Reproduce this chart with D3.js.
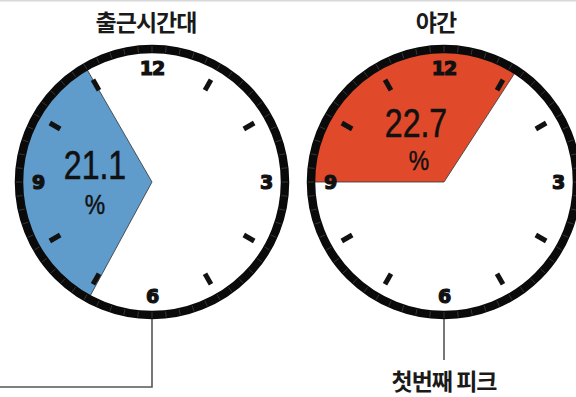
<!DOCTYPE html>
<html>
<head>
<meta charset="utf-8">
<script src="https://cdn.jsdelivr.net/npm/d3@7"></script>
<style>
  body { margin: 0; background: #fff; }
  svg { display: block; }
</style>
</head>
<body>
<script>
// chart data
var titles = ["출근시간대", "야간"];
var shares = [21.1, 22.7];
var startHours = [6.95, 9];     // wedge start (clock hour)
var endHours = [11, 13.1];      // wedge end (clock hour, 13 = 1 o'clock)
var wedgeColors = ["#5f9bcb", "#e04a2b"];
var hourLabels = ["12", "3", "6", "9"];
var labelHours = [0, 3, 6, 9];
var dashHours = [1, 2, 4, 5, 7, 8, 10, 11];
var peakLabel = "첫번째 피크";

var width = 576, height = 397;
var centers = [152, 444];
var cy = 182;
var r = 133;

// where the share text sits inside each clock (offset from center)
var shareX = [-57, -28];
var shareY = [-3, -45];
var pctY = [32, -12];

var svg = d3.select("body").append("svg")
    .attr("width", width)
    .attr("height", height);

// thin grey line along the top edge
svg.append("line")
    .attr("x1", 0).attr("x2", width)
    .attr("y1", 0.5).attr("y2", 0.5)
    .style("stroke", "#d8d8d8")
    .style("stroke-width", 2);

// hour -> angle (clockwise from 12)
var angle = d3.scaleLinear()
    .domain([0, 12])
    .range([0, 2 * Math.PI]);

var arc = d3.arc()
    .innerRadius(0)
    .outerRadius(r);

function px(h, rad) { return Math.sin(angle(h)) * rad; }
function py(h, rad) { return -Math.cos(angle(h)) * rad; }

titles.forEach(function(t, i) {
  var g = svg.append("g")
      .attr("transform", "translate(" + centers[i] + "," + cy + ")");

  // white face
  g.append("circle")
      .attr("r", r)
      .style("fill", "#fff");

  // share wedge
  g.append("path")
      .attr("d", arc({startAngle: angle(startHours[i]), endAngle: angle(endHours[i])}))
      .style("fill", wedgeColors[i])
      .style("stroke", "#333")
      .style("stroke-width", 0.8);

  // hour dashes
  g.selectAll(".dash")
      .data(dashHours)
      .enter()
      .append("line")
      .attr("x1", function(d) { return px(d, 106); })
      .attr("y1", function(d) { return py(d, 106); })
      .attr("x2", function(d) { return px(d, 118); })
      .attr("y2", function(d) { return py(d, 118); })
      .style("stroke", "#111")
      .style("stroke-width", 5);

  // hour numbers
  g.selectAll(".num")
      .data(labelHours)
      .enter()
      .append("text")
      .attr("x", function(d) { return px(d, 114); })
      .attr("y", function(d) { return py(d, 114); })
      .attr("dy", "0.36em")
      .attr("text-anchor", "middle")
      .style("font-family", "DejaVu Sans")
      .style("font-weight", "bold")
      .style("font-size", "19px")
      .style("letter-spacing", "-1px")
      .style("fill", "#111")
      .style("stroke", "#111")
      .style("stroke-width", 1.2)
      .text(function(d, j) { return hourLabels[j]; });

  // rim
  g.append("circle")
      .attr("r", r)
      .style("fill", "none")
      .style("stroke", "#0a0a0a")
      .style("stroke-width", 8.5);

  // faint minute marks on the rim
  g.selectAll(".minute")
      .data(d3.range(0, 12, 0.2))
      .enter()
      .append("line")
      .attr("x1", function(d) { return px(d, r - 3); })
      .attr("y1", function(d) { return py(d, r - 3); })
      .attr("x2", function(d) { return px(d, r + 3); })
      .attr("y2", function(d) { return py(d, r + 3); })
      .style("stroke", "#777")
      .style("stroke-width", 0.8)
      .style("opacity", 0.5);

  // share label
  g.append("text")
      .attr("transform", "translate(" + shareX[i] + "," + shareY[i] + ") scale(0.8,1)")
      .attr("text-anchor", "middle")
      .style("font-family", "Liberation Sans, Arial, sans-serif")
      .style("font-size", "40px")
      .style("fill", "#111")
      .style("stroke", "#111")
      .style("stroke-width", 0.6)
      .text(shares[i].toFixed(1));

  g.append("text")
      .attr("transform", "translate(" + (shareX[i] + (i == 1 ? 3 : 0)) + "," + pctY[i] + ") scale(0.85,1)")
      .attr("text-anchor", "middle")
      .style("font-family", "Liberation Sans, Arial, sans-serif")
      .style("font-size", "27px")
      .style("fill", "#111")
      .style("stroke", "#111")
      .style("stroke-width", 0.5)
      .text("%");

  // title
  svg.append("text")
      .attr("x", centers[i] - (i == 0 ? 6 : 8))
      .attr("y", 31)
      .attr("text-anchor", "middle")
      .style("font-family", "Noto Sans CJK KR")
      .style("font-weight", "bold")
      .style("font-size", "23px")
      .style("letter-spacing", "-1px")
      .style("fill", "#1a1a1a")
      .text(t);
});

// connector lines
svg.append("polyline")
    .attr("points", [[centers[0], cy + r + 4], [centers[0], 387], [0, 387]].join(" "))
    .style("fill", "none")
    .style("stroke", "#555")
    .style("stroke-width", 1.6);

svg.append("line")
    .attr("x1", centers[1]).attr("x2", centers[1])
    .attr("y1", cy + r + 4).attr("y2", 360)
    .style("stroke", "#555")
    .style("stroke-width", 1.6);

svg.append("text")
    .attr("x", centers[1])
    .attr("y", 390)
    .attr("text-anchor", "middle")
    .style("font-family", "Noto Sans CJK KR")
    .style("font-weight", "bold")
    .style("font-size", "23px")
    .style("letter-spacing", "-1px")
    .style("fill", "#1a1a1a")
    .text(peakLabel);
</script>
</body>
</html>
